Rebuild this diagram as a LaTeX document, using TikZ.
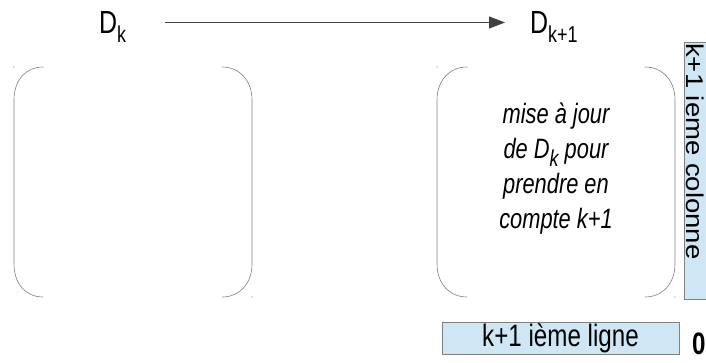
\documentclass[tikz,border=0pt]{standalone}
\usepackage{fontspec}
\setmainfont[FakeStretch=0.78]{Liberation Sans}
\newfontfamily\colfont{Liberation Sans}
\usepackage{tikz}
\usetikzlibrary{arrows.meta}
\definecolor{boxblue}{RGB}{207,231,245}
\definecolor{lightgray}{RGB}{128,128,128}
\newcommand{\lowsub}[2][9pt]{\raisebox{-#1}{\fontsize{23}{23}\selectfont #2}}

\begin{document}
\begin{tikzpicture}[x=1pt, y=-1pt]
  \tikzstyle{lbl}=[inner sep=0pt, font=\fontsize{32}{36}\selectfont]
  \tikzstyle{bluebox}=[draw=lightgray, fill=boxblue, line width=0.6pt, inner sep=0pt,
                       font=\fontsize{31}{34}\selectfont]
  \tikzstyle{paren}=[draw=lightgray, line width=0.6pt]
  \tikzstyle{dot}=[fill=lightgray, circle, inner sep=0.5pt]
\useasboundingbox (0,0) rectangle (706,363);
% D_k -> D_{k+1}
\node[lbl, anchor=base west] (dk) at (99,34) {D\lowsub{k}};
\node[lbl, anchor=base west] (dk1) at (530,34) {D\lowsub{k+1}};
\draw[black!75, line width=1pt, -{Triangle[length=16pt,width=12pt]},
      shorten <=39pt, shorten >=25pt]
  ([yshift=11.5pt]dk.base east) -- ([yshift=11.5pt]dk1.base west);
% left matrix
\draw[paren] (43,67) .. controls (26,67) and (14,80) .. (14,100) -- (14,264)
  .. controls (14,284) and (26,297) .. (43,297);
\draw[paren] (222,67) .. controls (239,67) and (252,80) .. (252,100) -- (252,264)
  .. controls (252,284) and (239,297) .. (222,297);
\node[dot] (c1) at (14,67) {};
\node[dot] (c2) at (252,297) {};
% right matrix
\draw[paren] (467,67) .. controls (450,67) and (437,80) .. (437,100) -- (437,264)
  .. controls (437,284) and (450,297) .. (467,297);
\draw[paren] (645,67) .. controls (662,67) and (675,80) .. (675,100) -- (675,264)
  .. controls (675,284) and (662,297) .. (645,297);
\node[dot] (c3) at (437,67) {};
\node[dot] (c4) at (675,297) {};
\node[font=\itshape\fontsize{28}{35}\selectfont, align=center] (note) at (556,169)
  {mise à jour\\de D\lowsub[8pt]{k} pour\\prendre en\\compte k+1};
% column and row
\draw[bluebox] (684,42) rectangle (712,299);
\node[rotate=-90, anchor=base west, inner sep=0pt, font=\colfont\fontsize{27.5}{30}\selectfont]
  (col) at (686,43) {\scalebox{1}[0.88]{k+1 ieme colonne}};
\node[bluebox, minimum width=237pt, minimum height=32pt] (ligne) at (560.5,338)
  {k+1 ième ligne};
\node[inner sep=0pt, anchor=base west, font=\bfseries\fontsize{31}{34}\selectfont]
  (zero) at (692,354) {0};
\end{tikzpicture}
\end{document}
